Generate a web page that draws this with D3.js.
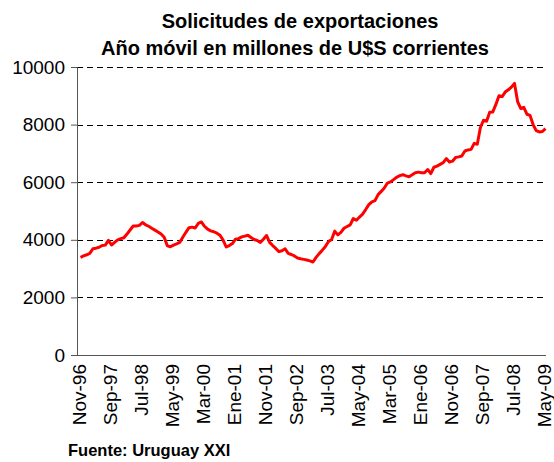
<!DOCTYPE html>
<html>
<head>
<meta charset="utf-8">
<script src="https://cdn.jsdelivr.net/npm/d3@7"></script>
<style>
  body { margin: 0; background: #fff; }
  text { font-family: "Liberation Sans", Arial, sans-serif; fill: #000; }
</style>
</head>
<body>
<div id="chart"></div>
<script>
// monthly categories, Nov-96 .. May-09
var monthNames = ["Ene","Feb","Mar","Abr","May","Jun","Jul","Ago","Sep","Oct","Nov","Dic"];
var months = [];
for (var k = 0; k < 151; k++) {
  var m = (10 + k) % 12, yr = 1996 + Math.floor((10 + k) / 12);
  months.push(monthNames[m] + "-" + String(yr).slice(2));
}

// year moving sum, millions of US$
var exports = [
  3390, 3440, 3480, 3530, 3690, 3710, 3740, 3800, 3815, 3980,
  3820, 3910, 4000, 4040, 4070, 4200, 4340, 4480, 4480, 4500,
  4600, 4520, 4470, 4400, 4335, 4270, 4200, 4090, 3790, 3760,
  3815, 3860, 3910, 4090, 4260, 4420, 4440, 4410, 4570, 4620,
  4470, 4370, 4310, 4280, 4230, 4160, 3990, 3750, 3800, 3870,
  4020, 4040, 4100, 4127, 4160, 4080, 4010, 3975, 3910, 4020,
  4150, 3910, 3800, 3700, 3590, 3620, 3690, 3530, 3490, 3440,
  3370, 3340, 3320, 3300, 3270, 3230, 3390, 3520, 3640, 3770,
  3940, 4010, 4300, 4170, 4260, 4400, 4460, 4520, 4740, 4680,
  4790, 4890, 5050, 5220, 5320, 5360, 5570, 5680, 5800, 5970,
  6010, 6090, 6170, 6230, 6260, 6220, 6190, 6260, 6330, 6350,
  6330, 6330, 6440, 6300, 6520, 6560, 6620, 6680, 6820, 6700,
  6730, 6860, 6880, 6910, 7085, 7120, 7140, 7350, 7320, 7900,
  8150, 8120, 8430, 8440, 8700, 9000, 8970, 9130, 9210, 9300,
  9430, 8800, 8560, 8600, 8360, 8320, 8000, 7790, 7745, 7760,
  7862
];

var tickLabels = ["Nov-96","Sep-97","Jul-98","May-99","Mar-00","Ene-01","Nov-01","Sep-02",
                  "Jul-03","May-04","Mar-05","Ene-06","Nov-06","Sep-07","Jul-08","May-09"];
var yTicks = [0, 2000, 4000, 6000, 8000, 10000];

var W = 554, H = 462;
var margin = {left: 77, right: 546, top: 67, bottom: 355};

var svg = d3.select("#chart").append("svg")
    .attr("width", W)
    .attr("height", H);

var x = d3.scalePoint()
    .domain(months)
    .range([80.5, 545.5]);
var y = d3.scaleLinear()
    .domain([0, 10000])
    .range([margin.bottom, margin.top]);

// title
var title = svg.append("g").attr("font-weight", "bold").attr("font-size", "20px").attr("text-anchor", "middle");
title.append("text").attr("x", 300).attr("y", 28).text("Solicitudes de exportaciones");
title.append("text").attr("x", 295).attr("y", 55).text("Año móvil en millones de U$S corrientes");

// dashed gridlines
svg.append("g")
  .selectAll("line")
  .data(yTicks.filter(function(d) { return d > 0; }))
  .enter().append("line")
    .attr("x1", margin.left).attr("x2", margin.right)
    .attr("y1", function(d) { return Math.round(y(d)) + 0.5; })
    .attr("y2", function(d) { return Math.round(y(d)) + 0.5; })
    .attr("stroke", "#000")
    .attr("stroke-width", 1)
    .attr("stroke-dasharray", "6,4");

// y axis
var yAxis = svg.append("g")
    .attr("transform", "translate(" + margin.left + ",0)")
    .call(d3.axisLeft(y).tickValues(yTicks).tickSize(6).tickPadding(6).tickFormat(d3.format("d")));
yAxis.select(".domain").attr("stroke", "#555");
yAxis.selectAll(".tick line").attr("stroke", "#555");
yAxis.selectAll("text")
    .attr("font-family", "Liberation Sans, Arial, sans-serif")
    .attr("font-size", "19px")
    .attr("fill", "#000");

// x axis
var xAxis = svg.append("g")
    .attr("transform", "translate(0," + margin.bottom + ")")
    .call(d3.axisBottom(x).tickValues(tickLabels).tickSize(0).tickPadding(0));
xAxis.select(".domain").attr("d", "M" + margin.left + ",0.5H" + margin.right).attr("stroke", "#555");
xAxis.selectAll("text")
    .attr("font-family", "Liberation Sans, Arial, sans-serif")
    .attr("font-size", "19px")
    .attr("fill", "#000")
    .attr("text-anchor", "end")
    .attr("transform", "rotate(-90)")
    .attr("x", -9)
    .attr("y", -2)
    .attr("dy", "0.35em");

// line
var line = d3.line()
    .x(function(d, i) { return x(months[i]); })
    .y(function(d) { return y(d); });

svg.append("path")
    .datum(exports)
    .attr("fill", "none")
    .attr("stroke", "#ff0000")
    .attr("stroke-width", 3)
    .attr("stroke-linejoin", "round")
    .attr("d", line);

// source
svg.append("text")
    .attr("x", 68).attr("y", 456)
    .attr("font-weight", "bold")
    .attr("font-size", "16.5px")
    .text("Fuente: Uruguay XXI");
</script>
</body>
</html>
